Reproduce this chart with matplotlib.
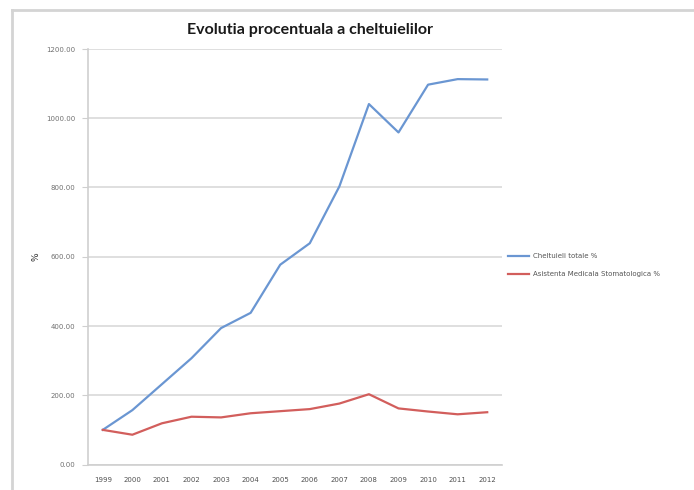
import matplotlib
matplotlib.use("Agg")
import matplotlib.pyplot as plt
from matplotlib.lines import Line2D

years = ["1999", "2000", "2001", "2002", "2003", "2004", "2005",
         "2006", "2007", "2008", "2009", "2010", "2011", "2012"]
cheltuieli_totale = [100, 157, 232, 307, 394, 438, 577, 639, 803, 1041, 959, 1097, 1113, 1112]
asistenta_stoma = [100, 86, 119, 138, 136, 148, 154, 160, 176, 203, 162, 153, 145, 151]
y_ticks = [0, 200, 400, 600, 800, 1000, 1200]

series_names = ["Cheltuieli totale %", "Asistenta Medicala Stomatologica %"]
colors = ["#6a96d2", "#d25e5c"]

W, H = 694, 490
fig = plt.figure(figsize=(W / 100, H / 100), dpi=100)
fig.patch.set_facecolor("white")

# outer frame (top and left edges visible)
fig.add_artist(Line2D([12 / W, 1], [1 - 10 / H, 1 - 10 / H], transform=fig.transFigure,
                      color="#d4d4d4", lw=2))
fig.add_artist(Line2D([12 / W, 12 / W], [0, 1 - 10 / H], transform=fig.transFigure,
                      color="#d4d4d4", lw=2))

left, right, bottom, top = 88 / W, 502 / W, 1 - 464.5 / H, 1 - 49 / H
ax = fig.add_axes([left, bottom, right - left, top - bottom])

x = list(range(len(years)))
ax.plot(x, cheltuieli_totale, color=colors[0], lw=1.6, label=series_names[0], zorder=3)
ax.plot(x, asistenta_stoma, color=colors[1], lw=1.6, label=series_names[1], zorder=3)

ax.set_xlim(-0.5, len(years) - 0.5)
ax.set_ylim(0, 1200)
ax.set_yticks(y_ticks)
ax.set_yticklabels([f"{v:.2f}" for v in y_ticks])
ax.set_xticks(x)
ax.set_xticklabels(years)

ax.grid(axis="y", color="#dcdcdc", lw=1.3)
ax.set_axisbelow(True)
for s in ["top", "right"]:
    ax.spines[s].set_visible(False)
for s in ["left", "bottom"]:
    ax.spines[s].set_color("#cfcfcf")
    ax.spines[s].set_linewidth(1.2)
ax.tick_params(axis="y", length=4, color="#cfcfcf", labelsize=5, labelcolor="#707070", pad=5)
ax.tick_params(axis="x", length=0, labelsize=5, labelcolor="#505050", pad=9)

ax.set_ylabel("%", fontsize=6.5, rotation=90, labelpad=4, color="#333333")

fig.text(310 / W, 1 - 30 / H, "Evolutia procentuala a cheltuielilor", ha="center", va="center",
         fontsize=11.5, fontweight="bold", family=["Lato", "DejaVu Sans"], color="#1a1a1a")

leg = ax.legend(loc="center left", bbox_to_anchor=(1.0, 0.48), frameon=False,
                fontsize=5, handlelength=3.0, handletextpad=0.6, labelspacing=1.7,
                labelcolor="#555555")

fig.savefig("out.png", dpi=100, facecolor="white")
